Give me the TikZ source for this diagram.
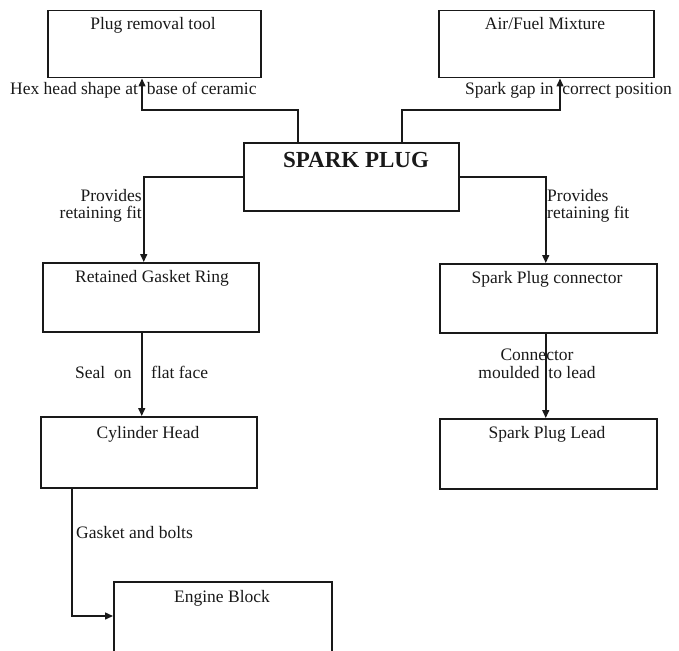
\documentclass[tikz,border=0pt]{standalone}
\usepackage{fontspec}
\setmainfont{Liberation Serif}
\usetikzlibrary{arrows.meta}
\begin{document}
\begin{tikzpicture}[x=1pt,y=-1pt,
  box/.style={draw=black!90,line width=1.5pt,anchor=north west,inner sep=0pt},
  txt/.style={anchor=base,inner sep=0pt,font=\fontsize{17.5}{17}\selectfont,text=black!90},
  ltxt/.style={txt,anchor=base west},
  rtxt/.style={txt,anchor=base east},
  conn/.style={draw=black!90,line width=1.5pt},
  arr/.style={conn,-{Triangle[length=8pt,width=7pt]}}]
\useasboundingbox (0,0) rectangle (679,650);
% boxes
\node[box,minimum width=213pt,minimum height=67pt] (plug) at (47,10) {};
\node[box,minimum width=215pt,minimum height=67pt] (air) at (438,10) {};
\node[box,minimum width=215pt,minimum height=68pt] (spark) at (243,142) {};
\node[box,minimum width=216pt,minimum height=69pt] (gasket) at (42,262) {};
\node[box,minimum width=217pt,minimum height=69pt] (conn) at (439,263) {};
\node[box,minimum width=216pt,minimum height=71pt] (cyl) at (40,416) {};
\node[box,minimum width=217pt,minimum height=70pt] (lead) at (439,418) {};
\node[box,minimum width=218pt,minimum height=90pt] (engine) at (113,581) {};
% box texts
\node[txt] (tplug) at (153,30) {Plug removal tool};
\node[txt] (tair) at (545,30) {Air/Fuel Mixture};
\node[txt,font=\fontsize{23}{23}\selectfont\bfseries] (tspark) at (356,167) {SPARK PLUG};
\node[txt] (tgasket) at (152,282) {Retained Gasket Ring};
\node[txt] (tconn) at (547,283) {Spark Plug connector};
\node[txt] (tcyl) at (148,438) {Cylinder Head};
\node[txt] (tlead) at (547,438) {Spark Plug Lead};
\node[txt] (tengine) at (222,602) {Engine Block};
% connector labels
\node[ltxt] (lhex) at (10,95) {Hex head shape at\ \ base of ceramic};
\node[ltxt] (lgap) at (465,95) {Spark gap in\ \ correct position};
\node[rtxt] (lprov1) at (142,201) {Provides};
\node[rtxt] (lprov2) at (142,218) {retaining fit};
\node[ltxt] (rprov1) at (547,201) {Provides};
\node[ltxt] (rprov2) at (547,218) {retaining fit};
\node[ltxt] (lseal) at (75,378) {Seal\ \ on};
\node[ltxt] (lflat) at (151,378) {flat face};
\node[txt] (lconn1) at (537,360) {Connector};
\node[txt] (lconn2) at (537,378) {moulded\ \ to lead};
\node[ltxt] (lbolts) at (76,538) {Gasket and bolts};
% connectors
\coordinate (c1) at (142,110);
\coordinate (c2) at (560,110);
\coordinate (g1) at (72,616);
\draw[arr] ([xshift=55pt]spark.north west) |- (c1) -- (c1 |- plug.south);
\draw[arr] ([xshift=159pt]spark.north west) |- (c2) -- (c2 |- air.south);
\draw[arr] (spark.west) -| ([xshift=-7pt]gasket.north);
\draw[arr] (spark.east) -| ([xshift=-2.5pt]conn.north);
\draw[arr] ([xshift=-9pt]gasket.south) -- ([xshift=-9pt]gasket.south |- cyl.north);
\draw[arr] ([xshift=-2.5pt]conn.south) -- ([xshift=-2.5pt]conn.south |- lead.north);
\draw[arr] (g1 |- cyl.south) -- (g1) -- (g1 -| engine.west);
\end{tikzpicture}
\end{document}
